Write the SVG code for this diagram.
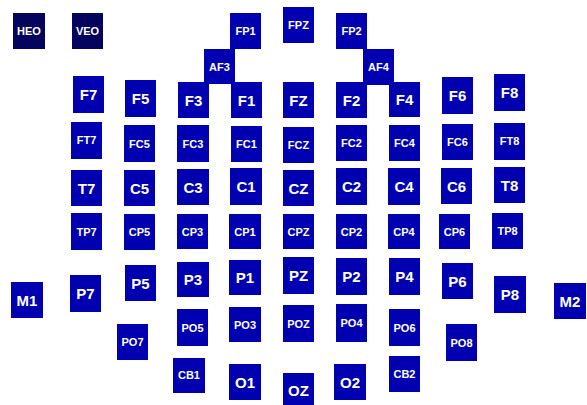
<svg xmlns="http://www.w3.org/2000/svg" width="587" height="405" viewBox="0 0 587 405">
<style>
.b{fill:#0000b0}
.d{fill:#04045e}
.t{fill:#fff;font-family:"Liberation Sans",Arial,sans-serif;font-weight:bold;text-anchor:middle}
.L{font-size:15px}
.s{font-size:11px}
</style>
<rect width="587" height="405" fill="#ffffff"/>
<g id="connectors"></g>
<g id="HEO"><rect class="d" x="13" y="13" width="32" height="36"/><text class="t s" x="29" y="35">HEO</text></g>
<g id="VEO"><rect class="d" x="72" y="13" width="31" height="36"/><text class="t s" x="87.5" y="35">VEO</text></g>
<g id="FP1"><rect class="b" x="230" y="13" width="31" height="36"/><text class="t s" x="245.5" y="35">FP1</text></g>
<g id="FPZ"><rect class="b" x="283" y="7" width="31" height="36"/><text class="t s" x="298.5" y="29">FPZ</text></g>
<g id="FP2"><rect class="b" x="336" y="13" width="31" height="36"/><text class="t s" x="351.5" y="35">FP2</text></g>
<g id="AF3"><rect class="b" x="204" y="49" width="31" height="35"/><text class="t s" x="219.5" y="71">AF3</text></g>
<g id="AF4"><rect class="b" x="363" y="49" width="31" height="36"/><text class="t s" x="378.5" y="71">AF4</text></g>
<g id="F7"><rect class="b" x="73" y="76" width="31" height="37"/><text class="t L" x="88.5" y="100">F7</text></g>
<g id="F5"><rect class="b" x="125" y="80" width="31" height="37"/><text class="t L" x="140.5" y="104">F5</text></g>
<g id="F3"><rect class="b" x="178" y="82" width="31" height="36"/><text class="t L" x="193.5" y="105.5">F3</text></g>
<g id="F1"><rect class="b" x="231" y="82" width="31" height="36"/><text class="t L" x="246.5" y="105.5">F1</text></g>
<g id="FZ"><rect class="b" x="283" y="82" width="31" height="36"/><text class="t L" x="298.5" y="105.5">FZ</text></g>
<g id="F2"><rect class="b" x="336" y="82" width="31" height="36"/><text class="t L" x="351.5" y="105.5">F2</text></g>
<g id="F4"><rect class="b" x="389" y="82" width="31" height="35"/><text class="t L" x="404.5" y="105">F4</text></g>
<g id="F6"><rect class="b" x="442" y="77" width="31" height="37"/><text class="t L" x="457.5" y="101">F6</text></g>
<g id="F8"><rect class="b" x="494" y="74" width="31" height="37"/><text class="t L" x="509.5" y="98">F8</text></g>
<g id="FT7"><rect class="b" x="71" y="122" width="31" height="37"/><text class="t s" x="86.5" y="144">FT7</text></g>
<g id="FC5"><rect class="b" x="124" y="125" width="31" height="37"/><text class="t s" x="139.5" y="148">FC5</text></g>
<g id="FC3"><rect class="b" x="177" y="125" width="32" height="37"/><text class="t s" x="193" y="148">FC3</text></g>
<g id="FC1"><rect class="b" x="231" y="126" width="31" height="36"/><text class="t s" x="246.5" y="148">FC1</text></g>
<g id="FCZ"><rect class="b" x="283" y="127" width="31" height="36"/><text class="t s" x="298.5" y="149">FCZ</text></g>
<g id="FC2"><rect class="b" x="336" y="125" width="31" height="36"/><text class="t s" x="351.5" y="147">FC2</text></g>
<g id="FC4"><rect class="b" x="389" y="125" width="31" height="36"/><text class="t s" x="404.5" y="147">FC4</text></g>
<g id="FC6"><rect class="b" x="442" y="124" width="31" height="36"/><text class="t s" x="457.5" y="146">FC6</text></g>
<g id="FT8"><rect class="b" x="494" y="123" width="31" height="37"/><text class="t s" x="509.5" y="145">FT8</text></g>
<g id="T7"><rect class="b" x="71" y="170" width="31" height="36"/><text class="t L" x="86.5" y="193.5">T7</text></g>
<g id="C5"><rect class="b" x="124" y="170" width="31" height="36"/><text class="t L" x="139.5" y="193.5">C5</text></g>
<g id="C3"><rect class="b" x="177" y="169" width="32" height="36"/><text class="t L" x="193" y="192.5">C3</text></g>
<g id="C1"><rect class="b" x="230" y="168" width="32" height="37"/><text class="t L" x="246" y="192">C1</text></g>
<g id="CZ"><rect class="b" x="283" y="170" width="31" height="36"/><text class="t L" x="298.5" y="193.5">CZ</text></g>
<g id="C2"><rect class="b" x="336" y="168" width="31" height="37"/><text class="t L" x="351.5" y="192">C2</text></g>
<g id="C4"><rect class="b" x="388" y="168" width="32" height="37"/><text class="t L" x="404" y="192">C4</text></g>
<g id="C6"><rect class="b" x="441" y="168" width="31" height="36"/><text class="t L" x="456.5" y="191.5">C6</text></g>
<g id="T8"><rect class="b" x="494" y="167" width="31" height="36"/><text class="t L" x="509.5" y="190.5">T8</text></g>
<g id="TP7"><rect class="b" x="71" y="213" width="31" height="37"/><text class="t s" x="86.5" y="236">TP7</text></g>
<g id="CP5"><rect class="b" x="124" y="214" width="31" height="36"/><text class="t s" x="139.5" y="236">CP5</text></g>
<g id="CP3"><rect class="b" x="177" y="214" width="31" height="35"/><text class="t s" x="192.5" y="236">CP3</text></g>
<g id="CP1"><rect class="b" x="229" y="214" width="32" height="35"/><text class="t s" x="245" y="236">CP1</text></g>
<g id="CPZ"><rect class="b" x="283" y="214" width="31" height="35"/><text class="t s" x="298.5" y="236">CPZ</text></g>
<g id="CP2"><rect class="b" x="336" y="214" width="31" height="35"/><text class="t s" x="351.5" y="236">CP2</text></g>
<g id="CP4"><rect class="b" x="388" y="214" width="32" height="35"/><text class="t s" x="404" y="236">CP4</text></g>
<g id="CP6"><rect class="b" x="439" y="214" width="31" height="35"/><text class="t s" x="454.5" y="236">CP6</text></g>
<g id="TP8"><rect class="b" x="492" y="213" width="31" height="36"/><text class="t s" x="507.5" y="235">TP8</text></g>
<g id="M1"><rect class="b" x="11" y="282" width="32" height="36"/><text class="t L" x="27" y="305.5">M1</text></g>
<g id="P7"><rect class="b" x="70" y="275" width="31" height="37"/><text class="t L" x="85.5" y="299">P7</text></g>
<g id="P5"><rect class="b" x="125" y="265" width="31" height="36"/><text class="t L" x="140.5" y="288.5">P5</text></g>
<g id="P3"><rect class="b" x="177" y="262" width="32" height="35"/><text class="t L" x="193" y="285">P3</text></g>
<g id="P1"><rect class="b" x="229" y="260" width="32" height="35"/><text class="t L" x="245" y="283">P1</text></g>
<g id="PZ"><rect class="b" x="283" y="257" width="31" height="37"/><text class="t L" x="298.5" y="281">PZ</text></g>
<g id="P2"><rect class="b" x="336" y="258" width="31" height="37"/><text class="t L" x="351.5" y="282">P2</text></g>
<g id="P4"><rect class="b" x="389" y="258" width="31" height="37"/><text class="t L" x="404.5" y="282">P4</text></g>
<g id="P6"><rect class="b" x="442" y="263" width="31" height="36"/><text class="t L" x="457.5" y="286.5">P6</text></g>
<g id="P8"><rect class="b" x="494" y="276" width="32" height="37"/><text class="t L" x="510" y="300">P8</text></g>
<g id="M2"><rect class="b" x="554" y="283" width="32" height="36"/><text class="t L" x="570" y="306.5">M2</text></g>
<g id="PO7"><rect class="b" x="117" y="324" width="31" height="36"/><text class="t s" x="132.5" y="346">PO7</text></g>
<g id="PO5"><rect class="b" x="177" y="309" width="31" height="37"/><text class="t s" x="192.5" y="332">PO5</text></g>
<g id="PO3"><rect class="b" x="229" y="307" width="32" height="35"/><text class="t s" x="245" y="329">PO3</text></g>
<g id="POZ"><rect class="b" x="283" y="305" width="31" height="37"/><text class="t s" x="298.5" y="328">POZ</text></g>
<g id="PO4"><rect class="b" x="336" y="304" width="31" height="38"/><text class="t s" x="351.5" y="327">PO4</text></g>
<g id="PO6"><rect class="b" x="389" y="309" width="31" height="37"/><text class="t s" x="404.5" y="332">PO6</text></g>
<g id="PO8"><rect class="b" x="446" y="324" width="31" height="37"/><text class="t s" x="461.5" y="347">PO8</text></g>
<g id="CB1"><rect class="b" x="173" y="358" width="32" height="35"/><text class="t s" x="189" y="379">CB1</text></g>
<g id="O1"><rect class="b" x="229" y="364" width="32" height="36"/><text class="t L" x="245" y="387.5">O1</text></g>
<g id="OZ"><rect class="b" x="283" y="373" width="31" height="34"/><text class="t L" x="298.5" y="396">OZ</text></g>
<g id="O2"><rect class="b" x="334" y="364" width="32" height="36"/><text class="t L" x="350" y="387.5">O2</text></g>
<g id="CB2"><rect class="b" x="389" y="356" width="31" height="36"/><text class="t s" x="404.5" y="378">CB2</text></g>
</svg>
